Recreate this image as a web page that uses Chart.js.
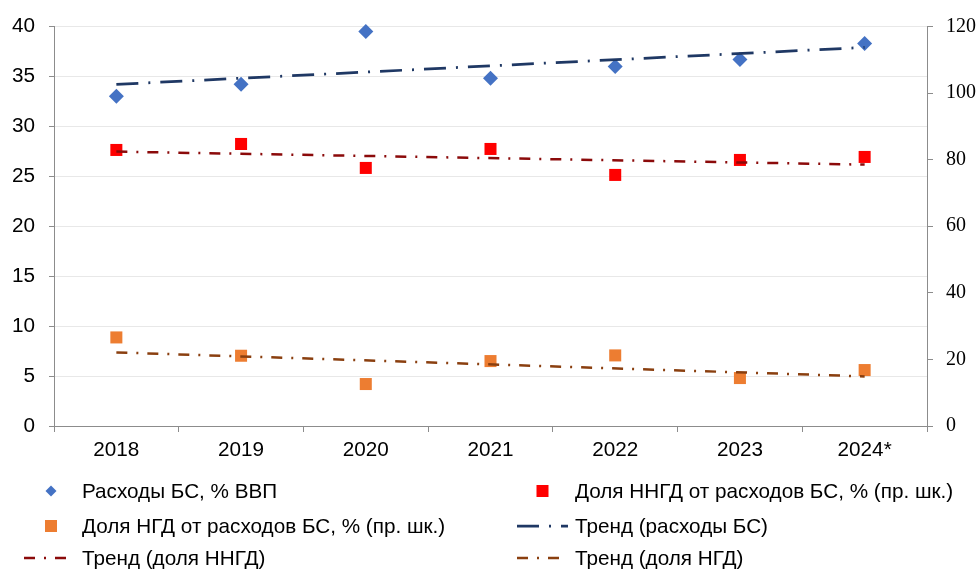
<!DOCTYPE html>
<html lang="ru">
<head>
<meta charset="utf-8">
<title>Расходы БС</title>
<script src="https://cdn.jsdelivr.net/npm/chart.js@4.4.1/dist/chart.umd.min.js"></script>
<style>
  html, body { margin: 0; padding: 0; background: #fff; overflow: hidden; width: 980px; height: 569px; }
  #wrap { position: relative; width: 980px; height: 569px; }
  #chart { position: absolute; left: 0; top: 0; }
  #legend { position: absolute; left: 0; top: 0; width: 980px; height: 569px; pointer-events: none;
            font-family: "Liberation Sans", Arial, sans-serif; font-size: 20.7px; color: #000; }
  .lg-item { position: absolute; height: 30px; width: 490px; }
  .lg-item svg { position: absolute; top: 0; }
  .lg-item span { position: absolute; top: 0; line-height: 30px; white-space: nowrap; }
</style>
</head>
<body>
<div id="wrap">
  <canvas id="chart" width="980" height="569"></canvas>
  <div id="legend"></div>
</div>
<script>
// Categories (years; 2024 is an estimate)
const categories = ['2018', '2019', '2020', '2021', '2022', '2023', '2024*'];

// Budget system spending, % of GDP (left axis)
const spendingGdp = [33.0, 34.2, 39.5, 34.8, 36.0, 36.7, 38.3];
// Share of non-oil-and-gas revenue in spending, % (right axis)
const nonOilShare = [82.9, 84.7, 77.5, 83.2, 75.4, 79.9, 80.8];
// Share of oil-and-gas revenue in spending, % (right axis)
const oilShare = [26.6, 21.1, 12.6, 19.5, 21.2, 14.4, 16.8];

// Linear trends: start and end values, straight line between them
const trendSpending = [34.2, null, null, null, null, null, 37.9];
const trendNonOil = [82.4, null, null, null, null, null, 78.5];
const trendOil = [22.1, null, null, null, null, null, 14.9];

// Axis tick labels
const leftTicks = [0, 5, 10, 15, 20, 25, 30, 35, 40];
const rightTicks = [0, 20, 40, 60, 80, 100, 120];

// Legend / series names
const seriesNames = [
  'Расходы БС, % ВВП',
  'Доля ННГД от расходов БС, % (пр. шк.)',
  'Доля НГД от расходов БС, % (пр. шк.)',
  'Тренд (расходы БС)',
  'Тренд (доля ННГД)',
  'Тренд (доля НГД)'
];

const SANS = '"Liberation Sans", Arial, sans-serif';
const SERIF = '"Liberation Serif", "Times New Roman", serif';
const AXIS = '#8c8c8c';

const markerSet = (name, values, axis, color, style, radius) => ({
  label: name, data: values, yAxisID: axis, showLine: false, order: 2, clip: false,
  pointStyle: style, pointRadius: radius, pointHoverRadius: radius,
  backgroundColor: color, borderColor: color, pointBorderWidth: 0
});
const trendSet = (name, values, axis, color, width, dash) => ({
  label: name, data: values, yAxisID: axis, spanGaps: true, order: 1,
  borderColor: color, backgroundColor: color, borderWidth: width,
  borderDash: dash, borderCapStyle: 'butt', pointRadius: 0, pointHoverRadius: 0, fill: false
});

const datasets = [
  markerSet(seriesNames[0], spendingGdp, 'y', '#4472C4', 'rectRot', 7.5),
  markerSet(seriesNames[1], nonOilShare, 'y1', '#FF0000', 'rect', 8.5),
  markerSet(seriesNames[2], oilShare, 'y1', '#ED7D31', 'rect', 8.5),
  trendSet(seriesNames[3], trendSpending, 'y', '#1F3864', 2.75, [22, 10, 2, 10]),
  trendSet(seriesNames[4], trendNonOil, 'y1', '#8B0A0A', 2.5, [11, 9, 2, 9]),
  trendSet(seriesNames[5], trendOil, 'y1', '#8A3F0F', 2.5, [11, 9, 2, 9])
];

const fixTicks = values => scale => { scale.ticks = values.map(v => ({ value: v })); };

const chart = new Chart(document.getElementById('chart'), {
  type: 'line',
  data: { labels: categories, datasets },
  options: {
    responsive: false,
    animation: false,
    events: [],
    layout: { padding: { top: 23, left: 0, right: 0, bottom: 0 } },
    plugins: { legend: { display: false }, tooltip: { enabled: false } },
    scales: {
      x: {
        offset: true,
        grid: { offset: true, drawOnChartArea: false, drawTicks: true, tickLength: 6, tickColor: AXIS, lineWidth: 1 },
        border: { color: AXIS, width: 1 },
        ticks: { color: '#000', font: { family: SANS, size: 20.7 }, padding: 6, maxRotation: 0, autoSkip: false },
        afterFit: s => { s.height = 143; }
      },
      y: {
        position: 'left', min: 0, max: 40,
        afterBuildTicks: fixTicks(leftTicks),
        grid: { color: '#e8e8e8', lineWidth: 1, drawTicks: true, tickLength: 5, tickColor: AXIS },
        border: { color: AXIS, width: 1 },
        ticks: { color: '#000', font: { family: SANS, size: 20.7 }, padding: 14 },
        afterFit: s => { s.width = 54; }
      },
      y1: {
        position: 'right', min: 0, max: 120,
        afterBuildTicks: fixTicks(rightTicks),
        grid: { drawOnChartArea: false, drawTicks: true, tickLength: 6, tickColor: AXIS },
        border: { color: AXIS, width: 1 },
        ticks: { color: '#000', font: { family: SERIF, size: 20 }, padding: 13 },
        afterFit: s => { s.width = 53; }
      }
    }
  }
});

// Two-column legend under the plot
const legendSlots = [
  { slot: 24, text: 82, y: 476 },
  { slot: 517, text: 575, y: 476 },
  { slot: 24, text: 82, y: 511 },
  { slot: 517, text: 575, y: 511 },
  { slot: 24, text: 82, y: 543 },
  { slot: 517, text: 575, y: 543 }
];
const NS = 'http://www.w3.org/2000/svg';
const legendEl = document.getElementById('legend');
datasets.forEach((ds, i) => {
  const pos = legendSlots[i];
  const item = document.createElement('div');
  item.className = 'lg-item';
  item.style.left = '0px';
  item.style.top = pos.y + 'px';
  const svg = document.createElementNS(NS, 'svg');
  const w = i % 2 === 0 ? 44 : 51;
  svg.setAttribute('width', w);
  svg.setAttribute('height', 30);
  svg.style.left = pos.slot + 'px';
  const cx = w / 2 + (i === 0 || i === 2 ? 5 : 0);
  if (ds.showLine === false) {
    if (ds.pointStyle === 'rectRot') {
      const p = document.createElementNS(NS, 'polygon');
      const r = 5.5;
      p.setAttribute('points', `${cx - r},15 ${cx},${15 - r} ${cx + r},15 ${cx},${15 + r}`);
      p.setAttribute('fill', ds.backgroundColor);
      svg.appendChild(p);
    } else {
      const s = document.createElementNS(NS, 'rect');
      s.setAttribute('x', cx - 6); s.setAttribute('y', 9);
      s.setAttribute('width', 12); s.setAttribute('height', 12);
      s.setAttribute('fill', ds.backgroundColor);
      svg.appendChild(s);
    }
  } else {
    const l = document.createElementNS(NS, 'line');
    l.setAttribute('x1', 0); l.setAttribute('x2', w);
    l.setAttribute('y1', 15); l.setAttribute('y2', 15);
    l.setAttribute('stroke', ds.borderColor);
    l.setAttribute('stroke-width', ds.borderWidth);
    l.setAttribute('stroke-dasharray', ds.borderDash.join(' '));
    svg.appendChild(l);
  }
  const span = document.createElement('span');
  span.textContent = ds.label;
  span.style.left = pos.text + 'px';
  item.appendChild(svg);
  item.appendChild(span);
  legendEl.appendChild(item);
});
</script>
</body>
</html>
